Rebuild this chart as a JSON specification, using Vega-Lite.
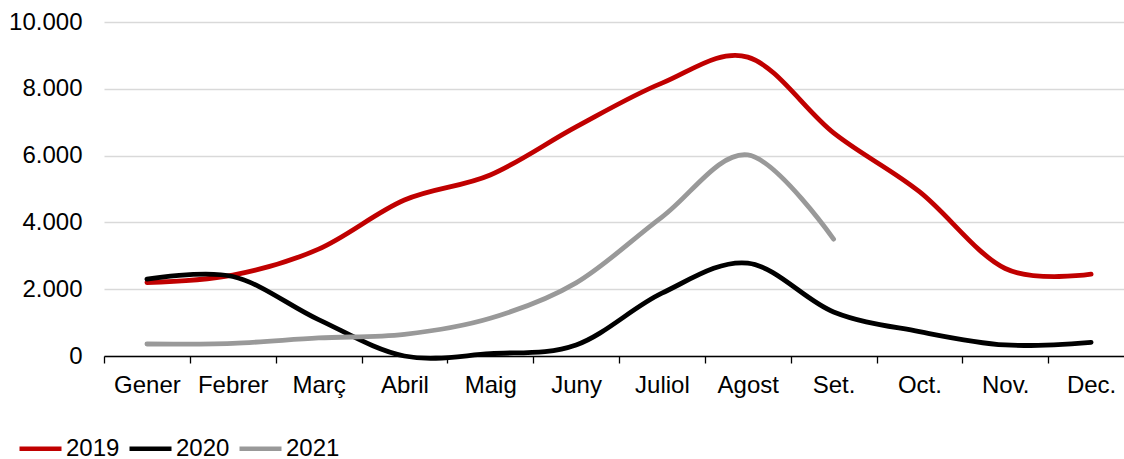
{
  "$schema": "https://vega.github.io/schema/vega-lite/v6.json",
  "width": 1030,
  "height": 334,
  "autosize": "none",
  "padding": {"left": 104, "top": 22, "right": 0, "bottom": 103},
  "config": {
    "locale": {"number": {"decimal": ",", "thousands": ".", "grouping": [3], "currency": ["", "€"]}},
    "view": {"stroke": null},
    "font": "Liberation Sans",
    "axis": {"labelFont": "Liberation Sans", "labelFontSize": 24, "labelColor": "#000000"},
    "legend": {"labelFont": "Liberation Sans", "labelFontSize": 24, "labelColor": "#000000"}
  },
  "data": {
    "values": [
      {"mes": "Gener", "any": "2019", "valor": 2200},
      {"mes": "Febrer", "any": "2019", "valor": 2420},
      {"mes": "Març", "any": "2019", "valor": 3200},
      {"mes": "Abril", "any": "2019", "valor": 4670},
      {"mes": "Maig", "any": "2019", "valor": 5420},
      {"mes": "Juny", "any": "2019", "valor": 6860},
      {"mes": "Juliol", "any": "2019", "valor": 8170},
      {"mes": "Agost", "any": "2019", "valor": 8950},
      {"mes": "Set.", "any": "2019", "valor": 6680},
      {"mes": "Oct.", "any": "2019", "valor": 4920},
      {"mes": "Nov.", "any": "2019", "valor": 2620},
      {"mes": "Dec.", "any": "2019", "valor": 2450},
      {"mes": "Gener", "any": "2020", "valor": 2300},
      {"mes": "Febrer", "any": "2020", "valor": 2380},
      {"mes": "Març", "any": "2020", "valor": 1090},
      {"mes": "Abril", "any": "2020", "valor": 0},
      {"mes": "Maig", "any": "2020", "valor": 70},
      {"mes": "Juny", "any": "2020", "valor": 330},
      {"mes": "Juliol", "any": "2020", "valor": 1880},
      {"mes": "Agost", "any": "2020", "valor": 2780},
      {"mes": "Set.", "any": "2020", "valor": 1320},
      {"mes": "Oct.", "any": "2020", "valor": 730},
      {"mes": "Nov.", "any": "2020", "valor": 330},
      {"mes": "Dec.", "any": "2020", "valor": 410},
      {"mes": "Gener", "any": "2021", "valor": 360},
      {"mes": "Febrer", "any": "2021", "valor": 380},
      {"mes": "Març", "any": "2021", "valor": 540},
      {"mes": "Abril", "any": "2021", "valor": 650},
      {"mes": "Maig", "any": "2021", "valor": 1130},
      {"mes": "Juny", "any": "2021", "valor": 2190},
      {"mes": "Juliol", "any": "2021", "valor": 4160},
      {"mes": "Agost", "any": "2021", "valor": 6020},
      {"mes": "Set.", "any": "2021", "valor": 3500}
    ]
  },
  "mark": {"type": "line", "interpolate": "cardinal", "tension": 0, "strokeWidth": 4.8, "strokeCap": "round"},
  "encoding": {
    "x": {
      "field": "mes",
      "type": "ordinal",
      "sort": ["Gener", "Febrer", "Març", "Abril", "Maig", "Juny", "Juliol", "Agost", "Set.", "Oct.", "Nov.", "Dec."],
      "scale": {"type": "band", "paddingInner": 0, "paddingOuter": 0},
      "bandPosition": 0.5,
      "axis": {
        "title": null,
        "labelAngle": 0,
        "domainColor": "#000000",
        "domainWidth": 1.3,
        "tickColor": "#000000",
        "tickWidth": 1.3,
        "tickSize": 7,
        "tickBand": "extent",
        "labelPadding": 10,
        "grid": false
      }
    },
    "y": {
      "field": "valor",
      "type": "quantitative",
      "scale": {"domain": [0, 10000], "nice": false},
      "axis": {
        "title": null,
        "values": [0, 2000, 4000, 6000, 8000, 10000],
        "format": ",d",
        "domain": false,
        "ticks": false,
        "labelPadding": 22,
        "gridColor": "#d9d9d9",
        "gridWidth": 1.5
      }
    },
    "color": {
      "field": "any",
      "type": "nominal",
      "scale": {"domain": ["2019", "2020", "2021"], "range": ["#c00000", "#000000", "#999999"]},
      "legend": {
        "title": null,
        "orient": "none",
        "direction": "horizontal",
        "legendX": -87,
        "legendY": 403,
        "symbolType": "stroke",
        "symbolSize": 1764,
        "symbolStrokeWidth": 4.5,
        "labelOffset": 2,
        "columnPadding": 0
      }
    }
  }
}
